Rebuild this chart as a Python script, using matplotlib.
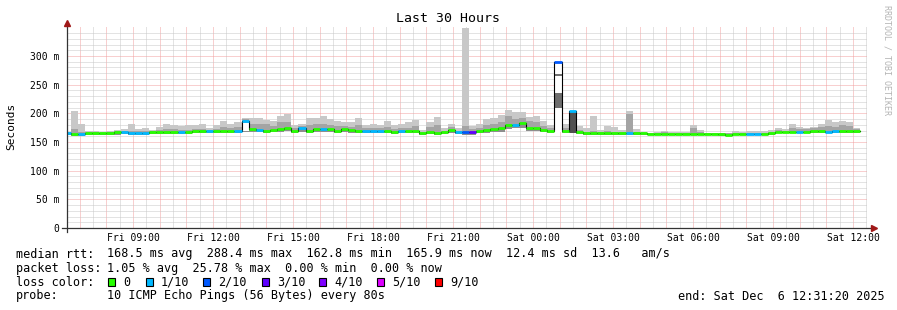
import numpy as np
import matplotlib
matplotlib.use('Agg')
import matplotlib.pyplot as plt
from matplotlib.patches import Rectangle
from matplotlib.ticker import MultipleLocator, FixedLocator, FuncFormatter

W, H = 897, 310
MONO = 'DejaVu Sans Mono'

# time axis: hours since Fri 00:00
t_start = 6 + 31 / 60 + 20 / 3600      # Fri 06:31:20
t_end = t_start + 30                    # Sat 12:31:20
bar_start = 6.4                         # first 16 min bucket (Fri 06:24)
bar_len = 16 / 60

# median rtt per bucket (ms)
median = [165, 164, 164, 165, 165, 165, 166, 167, 168, 166, 166, 166, 167, 168, 168, 168,
          168, 167, 169, 169, 169, 170, 170, 170, 169, 186, 172, 171, 170, 171, 173, 175,
          170, 174, 169, 173, 173, 172, 170, 172, 171, 170, 169, 169, 169, 169, 168, 169,
          169, 169, 166, 167, 166, 167, 171, 167, 167, 167, 169, 171, 172, 174, 180, 180,
          183, 175, 175, 171, 170, 290, 169, 204, 167, 165, 166, 166, 166, 165, 165, 165,
          166, 165, 164.5, 164.5, 164.5, 164.5, 164.5, 164.5, 164.5, 164.5, 164.5, 164.5, 164.5, 163, 164.5, 164.5,
          164.5, 164.5, 164.5, 166, 168, 168, 168, 168, 168, 169, 170, 168, 169, 170, 170, 169]

# loss class per bucket (index into loss_colors)
loss = [1, 0, 1, 0, 0, 0, 0, 0, 1, 1, 1, 1, 0, 0, 0, 0,
        1, 0, 0, 0, 1, 0, 0, 0, 1, 1, 0, 1, 0, 0, 0, 0,
        0, 1, 0, 0, 1, 0, 0, 0, 0, 0, 1, 1, 1, 0, 0, 1,
        0, 0, 0, 0, 0, 0, 0, 1, 2, 3, 0, 0, 0, 0, 0, 1,
        0, 0, 0, 0, 0, 2, 0, 1, 0, 0, 0, 0, 0, 0, 0, 1,
        0, 0, 0, 0, 0, 0, 0, 0, 0, 0, 0, 0, 0, 0, 0, 0,
        1, 1, 0, 0, 0, 0, 0, 1, 0, 0, 0, 1, 1, 0, 0, 0]

# smoke: bottom, inner (darker) top, outer top
smoke_lo = [162, 161, 161, 162, 162, 162, 163, 163, 164, 163, 163, 163, 164, 164, 164, 164,
            164, 164, 165, 165, 165, 166, 166, 166, 165, 168, 168, 167, 166, 167, 168, 169,
            166, 168, 165, 167, 167, 167, 166, 167, 166, 166, 165, 165, 165, 165, 164, 165,
            165, 165, 163, 164, 163, 164, 166, 164, 163, 163, 165, 166, 167, 168, 172, 174,
            175, 169, 169, 167, 166, 290, 165, 165, 164, 162, 163, 163, 163, 162, 162, 162,
            163, 162, 162, 162, 162, 162, 162, 162, 162, 162, 162, 162, 161, 162, 162, 162,
            162, 162, 162, 163, 165, 165, 165, 165, 165, 166, 166, 165, 166, 166, 166, 166]
smoke_mid = [166, 172, 168, 167, 167, 166, 167, 169, 170, 170, 169, 169, 169, 171, 172, 172,
             171, 171, 172, 173, 171, 173, 176, 175, 176, 190, 182, 181, 182, 178, 184, 185,
             174, 178, 180, 181, 182, 180, 178, 178, 177, 180, 174, 175, 174, 176, 173, 175,
             175, 178, 168, 176, 180, 170, 176, 170, 178, 172, 174, 180, 181, 185, 195, 190,
             192, 186, 185, 178, 175, 290, 174, 204, 171, 168, 170, 168, 170, 168, 167, 198,
             168, 166, 165, 166, 167, 166, 166, 166, 174, 168, 165, 165, 165, 165, 166, 166,
             166, 166, 166, 168, 171, 170, 174, 173, 172, 174, 176, 178, 177, 180, 178, 172]
smoke_hi = [168, 204, 182, 169, 170, 168, 169, 171, 173, 181, 173, 175, 171, 176, 181, 179,
            178, 179, 179, 181, 174, 179, 186, 182, 185, 192, 191, 191, 188, 186, 195, 199,
            180, 182, 192, 192, 195, 190, 187, 185, 185, 192, 180, 182, 180, 187, 180, 182,
            184, 188, 171, 185, 193, 175, 182, 174, 348, 178, 182, 190, 191, 197, 205, 203,
            203, 194, 195, 186, 180, 290, 181, 204, 178, 174, 195, 171, 178, 176, 171, 204,
            172, 168, 166, 167, 170, 167, 167, 167, 180, 171, 166, 166, 166, 166, 169, 168,
            169, 169, 169, 171, 175, 172, 181, 177, 174, 177, 182, 188, 184, 187, 184, 175]

# odd smoke pieces in the loss buckets: (bucket, bottom, top, colour)
bands = [(25, 169, 183, 'white'),
         (69, 168, 289, 'white'),
         (69, 209, 236, '#6e6e6e'),
         (69, 265, 269, '#6e6e6e'),
         (71, 165, 203, '#505050')]

loss_colors = ['#26ff00', '#00b8ff', '#0059ff', '#5e00ff', '#7e00ff', '#dd00ff', '#ff0000']
loss_labels = ['0', '1/10', '2/10', '3/10', '4/10', '5/10', '9/10']

tick_hours = [9, 12, 15, 18, 21, 24, 27, 30, 33, 36]
tick_labels = ['Fri 09:00', 'Fri 12:00', 'Fri 15:00', 'Fri 18:00', 'Fri 21:00',
               'Sat 00:00', 'Sat 03:00', 'Sat 06:00', 'Sat 09:00', 'Sat 12:00']
y_ticks = [0, 50, 100, 150, 200, 250, 300]

rtt_line = '168.5 ms avg  288.4 ms max  162.8 ms min  165.9 ms now  12.4 ms sd  13.6   am/s'
ploss_line = '1.05 % avg  25.78 % max  0.00 % min  0.00 % now'
probe_line = '10 ICMP Echo Pings (56 Bytes) every 80s'
end_line = 'end: Sat Dec  6 12:31:20 2025'
swatch_x = [108.3, 146, 203.3, 261.7, 319, 376.7, 435.3]


def fx(px):
    return px / W


def fy(py):
    return 1 - py / H


fig = plt.figure(figsize=(W / 100, H / 100), dpi=100, facecolor='white')
ax = fig.add_axes([fx(67), fy(228), 800 / W, 200.7 / H])
ax.set_facecolor('white')

med = np.array(median, dtype=float)
lo = np.array(smoke_lo, dtype=float)
mid = np.array(smoke_mid, dtype=float)
hi = np.array(smoke_hi, dtype=float)
x0 = bar_start + np.arange(len(med)) * bar_len

kw = dict(width=bar_len, align='edge', linewidth=0, antialiased=False)
ax.bar(x0, hi - lo, bottom=lo, color='#c8c8c8', **kw)
ax.bar(x0, mid - lo, bottom=lo, color='#a4a4a4', **kw)
ax.bar(x0, med - lo, bottom=lo, color='#8e8e8e', **kw)
for i, b, t, c in bands:
    ax.bar(x0[i], t - b, bottom=b, color=c, **kw)

edges = bar_start + np.arange(len(med) + 1) * bar_len
ax.step(edges, np.append(med, med[-1]), where='post', color='black', lw=0.8, zorder=3)
ax.hlines(med, x0, x0 + bar_len, colors=[loss_colors[l] for l in loss],
          lw=2.0, capstyle='butt', zorder=4)

ax.set_xlim(t_start, t_end)
ax.set_ylim(0, 350)

ax.xaxis.set_major_locator(MultipleLocator(1))
ax.xaxis.set_minor_locator(MultipleLocator(0.5))
lab = dict(zip(tick_hours, tick_labels))
ax.xaxis.set_major_formatter(FuncFormatter(lambda v, p: lab.get(int(round(v)), '')))
ax.yaxis.set_major_locator(FixedLocator(y_ticks))
ax.yaxis.set_minor_locator(FixedLocator(np.arange(10, 350, 10)))
ax.yaxis.set_major_formatter(FuncFormatter(lambda v, p: '0' if v == 0 else '%d m' % v))

ax.set_axisbelow(True)
ax.grid(which='minor', color='#c8c8c8', lw=0.72, ls=(0, (1, 1)))
ax.grid(which='major', color='#f2a0a0', lw=0.72, ls=(0, (1, 1)))

ax.tick_params(which='both', length=0)
ax.tick_params(axis='x', pad=3.5, labelsize=7)
ax.tick_params(axis='y', pad=5.5, labelsize=7)
for t in ax.get_xticklabels() + ax.get_yticklabels():
    t.set_family(MONO)

for s in ax.spines.values():
    s.set_visible(False)

# axes with arrows, rrdtool style
ax.plot([-5 / 800, 1.008], [0, 0], transform=ax.transAxes, color='#333333', lw=0.9, clip_on=False, zorder=5)
ax.plot([0, 0], [-4 / 200.7, 1.02], transform=ax.transAxes, color='#333333', lw=0.9, clip_on=False, zorder=5)
ax.plot([1.0085], [0], marker='>', ms=4.5, color='#a01818', transform=ax.transAxes, clip_on=False, zorder=6)
ax.plot([0], [1.022], marker='^', ms=4.5, color='#a01818', transform=ax.transAxes, clip_on=False, zorder=6)

fig.text(fx(447.5), fy(19), 'Last 30 Hours', ha='center', va='center', family=MONO, fontsize=9.5)
fig.text(fx(11), fy(126), 'Seconds', rotation=90, ha='center', va='center', family=MONO, fontsize=8)
fig.text(fx(887), fy(60), 'RRDTOOL / TOBI OETIKER', rotation=270, ha='center', va='center',
         family=MONO, fontsize=6, color='#b4b4b4')

fs = 8.5
rows = [('median rtt:', rtt_line, 254), ('packet loss:', ploss_line, 268.5),
        ('probe:', probe_line, 296)]
for name, vals, y in rows:
    fig.text(fx(16), fy(y), name, va='center', family=MONO, fontsize=fs)
    fig.text(fx(107.3), fy(y), vals, va='center', family=MONO, fontsize=fs)

fig.text(fx(16), fy(282), 'loss color:', va='center', family=MONO, fontsize=fs)
for c, l, x in zip(loss_colors, loss_labels, swatch_x):
    fig.add_artist(Rectangle((fx(x), fy(286)), 7 / W, 8 / H, transform=fig.transFigure,
                             facecolor=c, edgecolor='black', lw=0.8))
    fig.text(fx(x + 15), fy(282), l, va='center', family=MONO, fontsize=fs)

fig.text(fx(678.3), fy(296), end_line, va='center', family=MONO, fontsize=fs)

fig.savefig('out.png', dpi=100, facecolor='white')
